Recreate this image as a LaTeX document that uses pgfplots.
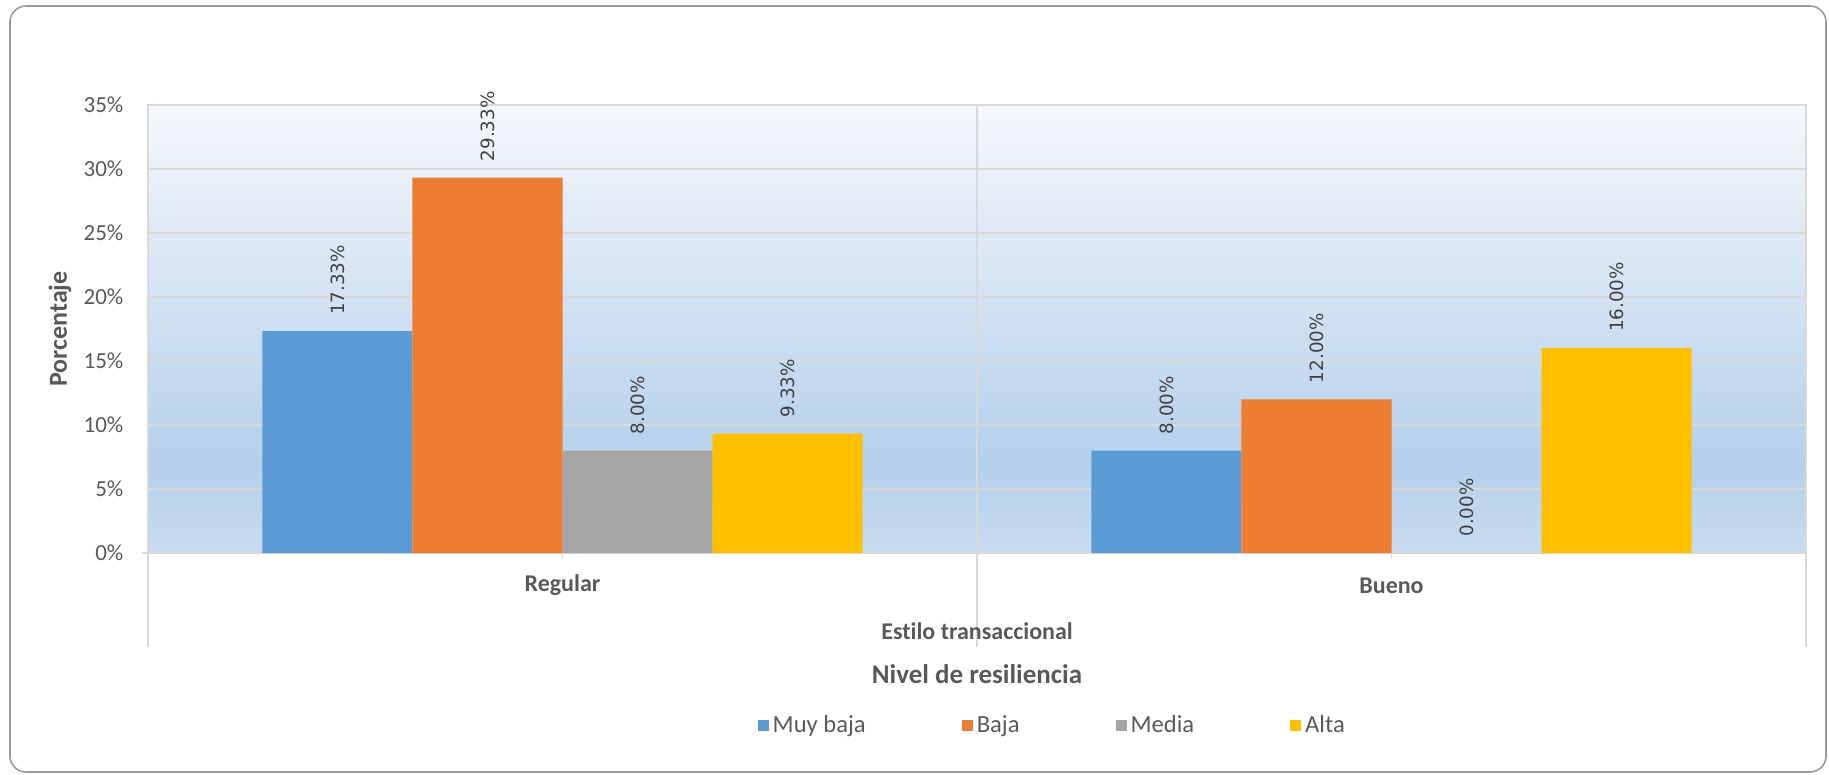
\documentclass[border=0pt]{standalone}
\usepackage{pgfplots}
\usepackage{pgfplotstable}
\pgfplotsset{compat=1.18}
\usepackage{fontspec}
\setmainfont{Carlito}[Ligatures={NoCommon}]
\newfontfamily\dejavu{DejaVu Sans}
\definecolor{cblue}{HTML}{5B9BD5}
\definecolor{corange}{HTML}{ED7D31}
\definecolor{cgray}{HTML}{A5A5A5}
\definecolor{cyellow}{HTML}{FFC000}
\definecolor{gridc}{HTML}{D9D9D9}
\definecolor{txt}{HTML}{595959}
\definecolor{lbl}{HTML}{404040}
\definecolor{framec}{HTML}{9A9A9A}
\definecolor{bgTop}{HTML}{F5F8FC}
\definecolor{bgDark}{HTML}{B5D0EB}
\definecolor{bgBot}{HTML}{C8DCEF}
\pgfdeclareverticalshading{plotbg}{100bp}{color(0bp)=(bgBot); color(25bp)=(bgBot); color(35bp)=(bgDark); color(75bp)=(bgTop); color(100bp)=(bgTop)}

\pgfplotstableread{
x muybaja baja media alta
0 17.33 29.33 8.00 9.33
1 8.00 12.00 0.00 16.00
}\datatable

\begin{document}
\begin{tikzpicture}
\path[use as bounding box] (0,0) rectangle (914.5pt,-387.5pt);
\draw[framec, line width=0.8pt, rounded corners=8pt] (5pt,-3pt) rectangle (913pt,-386pt);
\begin{axis}[
  at={(74pt,-276.5pt)}, anchor=south west,
  width=829pt, height=224pt, scale only axis,
  clip=false,
  ybar=0pt, bar width=0.181,
  xmin=-0.5, xmax=1.5,
  ymin=0, ymax=35,
  ytick={0,5,...,35},
  yticklabel={\pgfmathprintnumber{\tick}\%},
  /pgf/number format/assume math mode=true,
  ymajorgrids,
  grid style={gridc, line width=0.75pt},
  axis line style={gridc, line width=0.75pt},
  axis background/.style={shade, shading=plotbg},
  xtick={0,1}, xticklabels={},
  tick align=outside,
  xtick pos=lower, ytick pos=left,
  xtick style={draw=gridc, line width=0.75pt, /pgfplots/major tick length=3pt},
  ytick style={draw=none},
  yticklabel style={font=\fontsize{11.5}{13}\selectfont, text=txt, xshift=-4.5pt},
  ylabel={Porcentaje},
  ylabel style={font=\bfseries\fontsize{13}{15}\selectfont, text=txt, at={([xshift=-44pt]axis description cs:0,0.5)}, anchor=center},
  nodes near coords={\pgfmathprintnumber[fixed,fixed zerofill,precision=2]{\pgfplotspointmeta}\%},
  every node near coord/.append style={font=\dejavu\fontsize{9.15}{11}\selectfont, text=lbl, rotate=90, anchor=west, inner sep=0pt, inner xsep=8pt},
  legend columns=4,
  legend style={draw=none, fill=none, at={(0.546,-0.385)}, anchor=center,
    font=\fontsize{12.3}{14}\selectfont, text=txt,
    /tikz/every even column/.append style={column sep=46pt},
    nodes={inner xsep=2pt}},
  legend image code/.code={\fill[#1] (0pt,-2.8pt) rectangle (5.5pt,2.8pt);},
]
\addplot[fill=cblue, draw=none, bar shift=-0.2715] table[x=x, y=muybaja]{\datatable};
\addplot[fill=corange, draw=none, bar shift=-0.0905] table[x=x, y=baja]{\datatable};
\addplot[fill=cgray, draw=none, bar shift=0.0905] table[x=x, y=media]{\datatable};
\addplot[fill=cyellow, draw=none, bar shift=0.2715] table[x=x, y=alta]{\datatable};
\legend{Muy baja, Baja, Media, Alta}
\draw[gridc, line width=0.75pt] (axis cs:0.5,35) -- ([yshift=-47pt]axis cs:0.5,0);
\draw[gridc, line width=0.75pt] (axis cs:-0.5,0) -- ([yshift=-47pt]axis cs:-0.5,0);
\draw[gridc, line width=0.75pt] (axis cs:1.5,0) -- ([yshift=-47pt]axis cs:1.5,0);
\draw[gridc, line width=0.75pt] (axis cs:-0.5,0) -- ([xshift=-3pt]axis cs:-0.5,0);
\node[font=\bfseries\fontsize{12}{14}\selectfont, text=txt] at ([yshift=-16.3pt]axis cs:0,0) {Regular};
\node[font=\bfseries\fontsize{12}{14}\selectfont, text=txt] at ([yshift=-16.3pt]axis cs:1,0) {Bueno};
\node[font=\bfseries\fontsize{12}{14}\selectfont, text=txt] at ([yshift=-39pt]axis cs:0.5,0) {Estilo transaccional};
\node[font=\bfseries\fontsize{13.5}{16}\selectfont, text=txt] at ([yshift=-60.5pt]axis cs:0.5,0) {Nivel de resiliencia};
\end{axis}
\end{tikzpicture}
\end{document}
